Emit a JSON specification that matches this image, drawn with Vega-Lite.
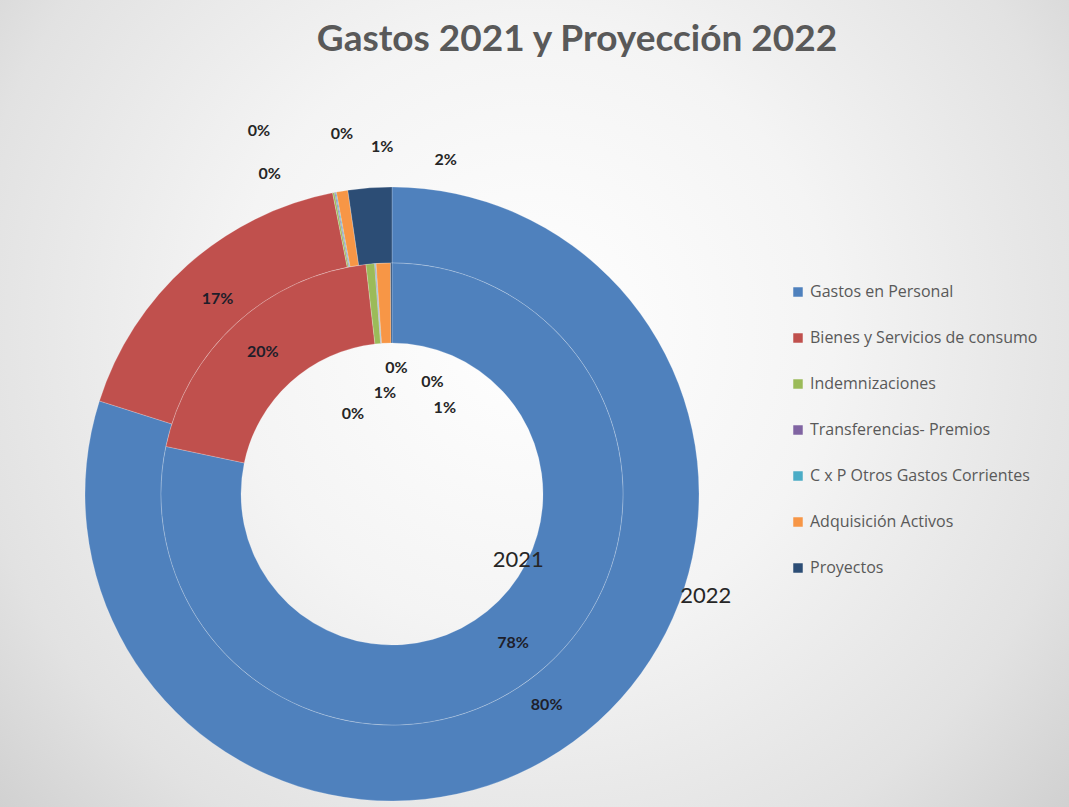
{
  "$schema": "https://vega.github.io/schema/vega-lite/v6.json",
  "width": 784,
  "height": 626,
  "autosize": {"type": "none"},
  "padding": {"left": 0, "top": 181, "right": 285, "bottom": 0},
  "background": "#ebebeb",
  "title": {"text": "Gastos 2021 y Proyección 2022", "font": "Lato", "fontSize": 37, "fontWeight": "bold", "color": "#595959", "anchor": "middle", "dx": 185, "offset": -465},
  "config": {"view": {"stroke": null}},
  "datasets": {
    "slices": [
      {"year": "2022", "category": "Gastos en Personal", "order": 1, "share": 0.799, "label": "80%"},
      {"year": "2022", "category": "Bienes y Servicios de consumo", "order": 2, "share": 0.170, "label": "17%"},
      {"year": "2022", "category": "Indemnizaciones", "order": 3, "share": 0.001, "label": "0%"},
      {"year": "2022", "category": "Transferencias- Premios", "order": 4, "share": 0.0005, "label": "0%"},
      {"year": "2022", "category": "C x P Otros Gastos Corrientes", "order": 5, "share": 0.0005, "label": "0%"},
      {"year": "2022", "category": "Adquisición Activos", "order": 6, "share": 0.006, "label": "1%"},
      {"year": "2022", "category": "Proyectos", "order": 7, "share": 0.023, "label": "2%"},
      {"year": "2021", "category": "Gastos en Personal", "order": 1, "share": 0.783, "label": "78%"},
      {"year": "2021", "category": "Bienes y Servicios de consumo", "order": 2, "share": 0.199, "label": "20%"},
      {"year": "2021", "category": "Indemnizaciones", "order": 3, "share": 0.006, "label": "1%"},
      {"year": "2021", "category": "Transferencias- Premios", "order": 4, "share": 0.0005, "label": "0%"},
      {"year": "2021", "category": "C x P Otros Gastos Corrientes", "order": 5, "share": 0.0005, "label": "0%"},
      {"year": "2021", "category": "Adquisición Activos", "order": 6, "share": 0.010, "label": "1%"},
      {"year": "2021", "category": "Proyectos", "order": 7, "share": 0.001, "label": "0%"}
    ]
  },
  "layer": [
    {
      "data": {"values": [{"bg": 1}]},
      "mark": {"type": "arc", "radius": 900, "strokeWidth": 0, "fill": {"gradient": "radial", "x1": 0.577, "y1": 0.409, "x2": 0.577, "y2": 0.409, "r1": 0, "r2": 0.42, "stops": [{"offset": 0, "color": "#ffffff"}, {"offset": 0.4, "color": "#f4f4f4"}, {"offset": 0.75, "color": "#e2e2e2"}, {"offset": 1, "color": "#cccccc"}]}},
      "encoding": {}
    },
    {
      "data": {"name": "slices"},
      "transform": [{"filter": "datum.year == '2022'"}],
      "mark": {"type": "arc", "radius": 307, "radius2": 231, "stroke": "#ffffff", "strokeWidth": 0.6, "strokeOpacity": 0.35},
      "encoding": {
        "theta": {"field": "share", "type": "quantitative", "stack": true},
        "order": {"field": "order", "type": "quantitative"},
        "color": {
          "field": "category", "type": "nominal",
          "scale": {"domain": ["Gastos en Personal", "Bienes y Servicios de consumo", "Indemnizaciones", "Transferencias- Premios", "C x P Otros Gastos Corrientes", "Adquisición Activos", "Proyectos"], "range": ["#4F81BD", "#C0504D", "#9BBB59", "#8064A2", "#4BACC6", "#F79646", "#2C4D75"]},
          "legend": {"orient": "none", "legendX": 790, "legendY": 103, "title": null, "symbolType": "square", "symbolSize": 90, "symbolStrokeWidth": 0, "labelFont": "Open Sans", "labelFontSize": 16, "labelColor": "#595959", "rowPadding": 30, "labelLimit": 400, "padding": 0}
        }
      }
    },
    {
      "data": {"name": "slices"},
      "transform": [{"filter": "datum.year == '2021'"}],
      "mark": {"type": "arc", "radius": 231, "radius2": 151, "stroke": "#ffffff", "strokeWidth": 0.6, "strokeOpacity": 0.35},
      "encoding": {
        "theta": {"field": "share", "type": "quantitative", "stack": true},
        "order": {"field": "order", "type": "quantitative"},
        "color": {"field": "category", "type": "nominal"}
      }
    },
    {
      "data": {"name": "slices"},
      "transform": [{"filter": "datum.year == '2022'"}],
      "mark": {"type": "text", "radius": 262, "font": "Lato", "fontSize": 16, "fontWeight": "bold", "color": "#1e1e2a"},
      "encoding": {
        "theta": {"field": "share", "type": "quantitative", "stack": true},
        "order": {"field": "order", "type": "quantitative"},
        "text": {"condition": {"test": "datum.share >= 0.1", "field": "label"}, "value": ""}
      }
    },
    {
      "data": {"name": "slices"},
      "transform": [{"filter": "datum.year == '2021'"}],
      "mark": {"type": "text", "radius": 192, "font": "Lato", "fontSize": 16, "fontWeight": "bold", "color": "#1e1e2a"},
      "encoding": {
        "theta": {"field": "share", "type": "quantitative", "stack": true},
        "order": {"field": "order", "type": "quantitative"},
        "text": {"condition": {"test": "datum.share >= 0.1", "field": "label"}, "value": ""}
      }
    },
    {
      "data": {"name": "slices"},
      "transform": [{"filter": "datum.year == '2022'"}],
      "mark": {"type": "text", "radius": 269, "dx": -71, "dy": -56, "font": "Lato", "fontSize": 16, "fontWeight": "bold", "color": "#262626"},
      "encoding": {
        "theta": {"field": "share", "type": "quantitative", "stack": true},
        "order": {"field": "order", "type": "quantitative"},
        "text": {"condition": {"test": "datum.category == 'Indemnizaciones'", "field": "label"}, "value": ""}
      }
    },
    {
      "data": {"name": "slices"},
      "transform": [{"filter": "datum.year == '2022'"}],
      "mark": {"type": "text", "radius": 269, "dx": -83, "dy": -99, "font": "Lato", "fontSize": 16, "fontWeight": "bold", "color": "#262626"},
      "encoding": {
        "theta": {"field": "share", "type": "quantitative", "stack": true},
        "order": {"field": "order", "type": "quantitative"},
        "text": {"condition": {"test": "datum.category == 'Transferencias- Premios'", "field": "label"}, "value": ""}
      }
    },
    {
      "data": {"name": "slices"},
      "transform": [{"filter": "datum.year == '2022'"}],
      "mark": {"type": "text", "radius": 269, "dx": -1, "dy": -96, "font": "Lato", "fontSize": 16, "fontWeight": "bold", "color": "#262626"},
      "encoding": {
        "theta": {"field": "share", "type": "quantitative", "stack": true},
        "order": {"field": "order", "type": "quantitative"},
        "text": {"condition": {"test": "datum.category == 'C x P Otros Gastos Corrientes'", "field": "label"}, "value": ""}
      }
    },
    {
      "data": {"name": "slices"},
      "transform": [{"filter": "datum.year == '2022'"}],
      "mark": {"type": "text", "radius": 269, "dx": 34, "dy": -82, "font": "Lato", "fontSize": 16, "fontWeight": "bold", "color": "#262626"},
      "encoding": {
        "theta": {"field": "share", "type": "quantitative", "stack": true},
        "order": {"field": "order", "type": "quantitative"},
        "text": {"condition": {"test": "datum.category == 'Adquisición Activos'", "field": "label"}, "value": ""}
      }
    },
    {
      "data": {"name": "slices"},
      "transform": [{"filter": "datum.year == '2022'"}],
      "mark": {"type": "text", "radius": 269, "dx": 73, "dy": -66, "font": "Lato", "fontSize": 16, "fontWeight": "bold", "color": "#262626"},
      "encoding": {
        "theta": {"field": "share", "type": "quantitative", "stack": true},
        "order": {"field": "order", "type": "quantitative"},
        "text": {"condition": {"test": "datum.category == 'Proyectos'", "field": "label"}, "value": ""}
      }
    },
    {
      "data": {"name": "slices"},
      "transform": [{"filter": "datum.year == '2021'"}],
      "mark": {"type": "text", "radius": 191, "dx": 11, "dy": 89, "font": "Lato", "fontSize": 16, "fontWeight": "bold", "color": "#262626"},
      "encoding": {
        "theta": {"field": "share", "type": "quantitative", "stack": true},
        "order": {"field": "order", "type": "quantitative"},
        "text": {"condition": {"test": "datum.category == 'Indemnizaciones'", "field": "label"}, "value": ""}
      }
    },
    {
      "data": {"name": "slices"},
      "transform": [{"filter": "datum.year == '2021'"}],
      "mark": {"type": "text", "radius": 191, "dx": -25, "dy": 110, "font": "Lato", "fontSize": 16, "fontWeight": "bold", "color": "#262626"},
      "encoding": {
        "theta": {"field": "share", "type": "quantitative", "stack": true},
        "order": {"field": "order", "type": "quantitative"},
        "text": {"condition": {"test": "datum.category == 'Transferencias- Premios'", "field": "label"}, "value": ""}
      }
    },
    {
      "data": {"name": "slices"},
      "transform": [{"filter": "datum.year == '2021'"}],
      "mark": {"type": "text", "radius": 191, "dx": 18, "dy": 65, "font": "Lato", "fontSize": 16, "fontWeight": "bold", "color": "#262626"},
      "encoding": {
        "theta": {"field": "share", "type": "quantitative", "stack": true},
        "order": {"field": "order", "type": "quantitative"},
        "text": {"condition": {"test": "datum.category == 'C x P Otros Gastos Corrientes'", "field": "label"}, "value": ""}
      }
    },
    {
      "data": {"name": "slices"},
      "transform": [{"filter": "datum.year == '2021'"}],
      "mark": {"type": "text", "radius": 191, "dx": 60, "dy": 105, "font": "Lato", "fontSize": 16, "fontWeight": "bold", "color": "#262626"},
      "encoding": {
        "theta": {"field": "share", "type": "quantitative", "stack": true},
        "order": {"field": "order", "type": "quantitative"},
        "text": {"condition": {"test": "datum.category == 'Adquisición Activos'", "field": "label"}, "value": ""}
      }
    },
    {
      "data": {"name": "slices"},
      "transform": [{"filter": "datum.year == '2021'"}],
      "mark": {"type": "text", "radius": 191, "dx": 41, "dy": 79, "font": "Lato", "fontSize": 16, "fontWeight": "bold", "color": "#262626"},
      "encoding": {
        "theta": {"field": "share", "type": "quantitative", "stack": true},
        "order": {"field": "order", "type": "quantitative"},
        "text": {"condition": {"test": "datum.category == 'Proyectos'", "field": "label"}, "value": ""}
      }
    },
    {
      "data": {"name": "slices"},
      "transform": [{"filter": "datum.year == '2022'"}],
      "mark": {"type": "text", "radius": 269, "dx": 155, "dy": -115, "font": "Lato", "fontSize": 22, "color": "#262626"},
      "encoding": {
        "theta": {"field": "share", "type": "quantitative", "stack": true},
        "order": {"field": "order", "type": "quantitative"},
        "text": {"condition": {"test": "datum.category == 'Gastos en Personal'", "field": "year"}, "value": ""}
      }
    },
    {
      "data": {"name": "slices"},
      "transform": [{"filter": "datum.year == '2021'"}],
      "mark": {"type": "text", "radius": 191, "dx": 6, "dy": -82, "font": "Lato", "fontSize": 22, "color": "#262626"},
      "encoding": {
        "theta": {"field": "share", "type": "quantitative", "stack": true},
        "order": {"field": "order", "type": "quantitative"},
        "text": {"condition": {"test": "datum.category == 'Gastos en Personal'", "field": "year"}, "value": ""}
      }
    }
  ]
}
